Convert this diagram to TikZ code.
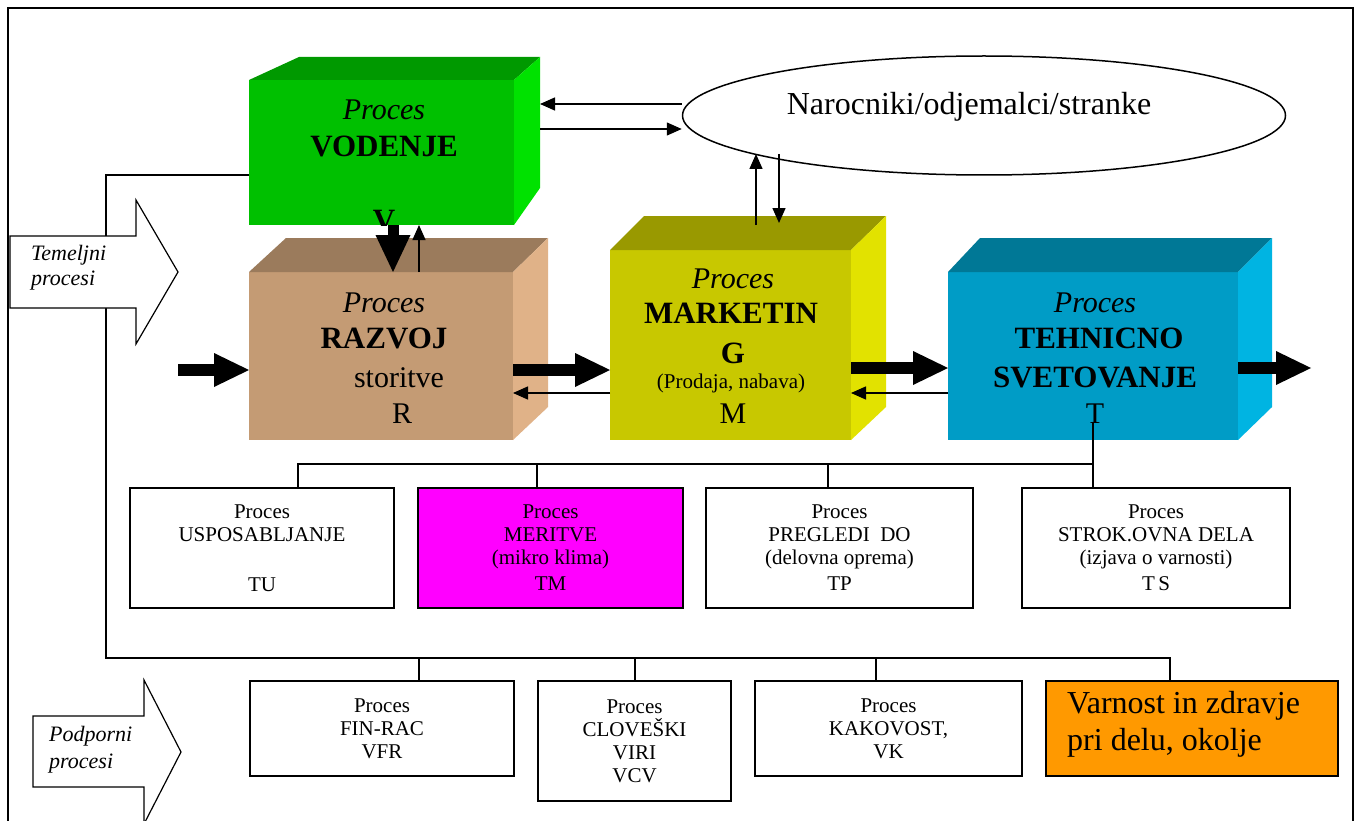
\documentclass[tikz,border=0pt]{standalone}
\usepackage{fontspec}
\setmainfont{Liberation Serif}
\usetikzlibrary{arrows.meta,shapes.geometric}

\definecolor{vodFront}{RGB}{0,192,0}
\definecolor{vodTop}{RGB}{0,153,0}
\definecolor{vodSide}{RGB}{0,226,0}
\definecolor{razFront}{RGB}{196,155,116}
\definecolor{razTop}{RGB}{155,123,92}
\definecolor{razSide}{RGB}{224,178,136}
\definecolor{marFront}{RGB}{200,200,0}
\definecolor{marTop}{RGB}{153,153,0}
\definecolor{marSide}{RGB}{226,226,0}
\definecolor{tehFront}{RGB}{0,156,198}
\definecolor{tehTop}{RGB}{0,120,150}
\definecolor{tehSide}{RGB}{0,180,226}
\definecolor{merFill}{RGB}{255,0,255}
\definecolor{varFill}{RGB}{255,153,0}

\begin{document}
\begin{tikzpicture}[x=1pt,y=-1pt,
  conn/.style={line width=1.4pt},
  thinarrow/.style={line width=1.4pt,-{Triangle[length=15pt,width=13pt]}},
  fatarrow/.style={line width=12pt,-{Triangle[length=35pt,width=34pt,line width=0pt]}},
  face/.style={inner sep=0pt,outer sep=0pt,anchor=north west},
  boxit/.style={font=\fontsize{30}{36}\selectfont\itshape,inner sep=0pt,anchor=base},
  boxbf/.style={font=\fontsize{31}{36}\selectfont\bfseries,inner sep=0pt,anchor=base},
  boxrm/.style={font=\fontsize{30}{36}\selectfont,inner sep=0pt,anchor=base},
  boxsm/.style={font=\fontsize{21}{24}\selectfont,inner sep=0pt,anchor=base},
  subbox/.style={draw,line width=1.3pt,align=center,inner sep=0pt,
                 font=\fontsize{21}{23}\selectfont},
  sidelbl/.style={font=\fontsize{22}{26}\selectfont\itshape,inner sep=0pt,anchor=base west},
  bigarrow/.style={draw,line width=1.2pt,fill=white,line join=miter}
]
\useasboundingbox (0,0) rectangle (1364,821);
\fill[white] (0,0) rectangle (1364,821);

% outer frame
\draw[line width=2pt] (8,821) -- (8,8) -- (1353,8) -- (1353,821);

% ---------- process VODENJE ----------
\node[face,fill=vodFront,minimum width=265pt,minimum height=145pt] (vod) at (249,80) {};
\coordinate (vodTL) at (299,57);
\coordinate (vodTR) at (540,57);
\coordinate (vodBR) at (540,188);
\fill[vodTop] (vod.north west) -- (vodTL) -- (vodTR) -- (vod.north east) -- cycle;
\fill[vodSide] (vod.north east) -- (vodTR) -- (vodBR) -- (vod.south east) -- cycle;
\node[boxit] (vodP) at (384,120) {Proces};
\node[boxbf] (vodN) at (384,157) {VODENJE};
\begin{scope}
  \clip (vod.north west) rectangle (vod.south east);
  \node[boxbf] (vodC) at (384,230) {V};
\end{scope}

% ---------- process RAZVOJ ----------
\node[face,fill=razFront,minimum width=264pt,minimum height=168pt] (raz) at (249,272) {};
\coordinate (razTL) at (286,238);
\coordinate (razTR) at (548,238);
\coordinate (razBR) at (548,407);
\fill[razTop] (raz.north west) -- (razTL) -- (razTR) -- (raz.north east) -- cycle;
\fill[razSide] (raz.north east) -- (razTR) -- (razBR) -- (raz.south east) -- cycle;
\node[boxit] (razP) at (384,312) {Proces};
\node[boxbf] (razN) at (384,348) {RAZVOJ};
\node[boxrm] (razS) at (399,387) {storitve};
\node[boxrm] (razC) at (402,423) {R};

% ---------- process MARKETING ----------
\node[face,fill=marFront,minimum width=241pt,minimum height=190pt] (mar) at (610,250) {};
\coordinate (marTL) at (644,216);
\coordinate (marTR) at (886,216);
\coordinate (marBR) at (886,407);
\fill[marTop] (mar.north west) -- (marTL) -- (marTR) -- (mar.north east) -- cycle;
\fill[marSide] (mar.north east) -- (marTR) -- (marBR) -- (mar.south east) -- cycle;
\node[boxit] (marP) at (733,288) {Proces};
\node[boxbf] (marN1) at (731,323) {MARKETIN};
\node[boxbf] (marN2) at (733,363) {G};
\node[boxsm] (marS) at (731,388) {(Prodaja, nabava)};
\node[boxrm] (marC) at (733,423) {M};

% ---------- process TEHNICNO SVETOVANJE ----------
\node[face,fill=tehFront,minimum width=290pt,minimum height=168pt] (teh) at (948,272) {};
\coordinate (tehTL) at (980,238);
\coordinate (tehTR) at (1272,238);
\coordinate (tehBR) at (1272,407);
\fill[tehTop] (teh.north west) -- (tehTL) -- (tehTR) -- (teh.north east) -- cycle;
\fill[tehSide] (teh.north east) -- (tehTR) -- (tehBR) -- (teh.south east) -- cycle;
\node[boxit] (tehP) at (1095,312) {Proces};
\node[boxbf] (tehN1) at (1099,348) {TEHNICNO};
\node[boxbf] (tehN2) at (1095,387) {SVETOVANJE};
\node[boxrm] (tehC) at (1095,423) {T};

% ---------- customers ----------
\node[draw,ellipse,line width=1.5pt,fill=white,inner sep=0pt,
      minimum width=603pt,minimum height=119pt] (cust) at (984,115.5) {};
\node[font=\fontsize{32}{36}\selectfont,inner sep=0pt,anchor=base] (custL) at (969,115)
  {Narocniki/odjemalci/stranke};

% arrows between VODENJE and customers
\draw[thinarrow] (cust.west |- 0,104) -- (vodTR |- 0,104);
\draw[thinarrow] (vodTR |- 0,129) -- (cust.west |- 0,129);

% arrows between MARKETING and customers
\coordinate (mkUpA) at (756,225);
\coordinate (mkUpB) at (756,154);
\coordinate (mkDnA) at (779,154);
\coordinate (mkDnB) at (779,223);
\draw[thinarrow] (mkUpA) -- (mkUpB);
\draw[thinarrow] (mkDnA) -- (mkDnB);

% arrows between VODENJE and RAZVOJ
\draw[line width=11pt,-{Triangle[length=37pt,width=35pt,line width=0pt]}]
  (393,0 |- vod.south) -- (393,0 |- raz.north);
\draw[thinarrow] (419,0 |- raz.north) -- (419,0 |- vod.south);

% main flow
\coordinate (inL) at (178,370);
\coordinate (outR) at (1311,368);
\draw[fatarrow] (inL) -- (raz.west |- inL);
\draw[fatarrow] (raz.east |- 0,370) -- (mar.west |- 0,370);
\draw[fatarrow] (mar.east |- 0,368) -- (teh.west |- 0,368);
\draw[fatarrow] (teh.east |- outR) -- (outR);

% return flow
\draw[thinarrow] (mar.west |- 0,393) -- (raz.east |- 0,393);
\draw[thinarrow] (teh.west |- 0,393) -- (mar.east |- 0,393);

% ---------- technical sub-processes ----------
\node[subbox,minimum width=264pt,minimum height=120pt] (tu) at (262,548)
  {Proces\\USPOSABLJANJE\\[27pt]TU};
\node[subbox,fill=merFill,minimum width=265pt,minimum height=120pt] (tm) at (550.5,548)
  {Proces\\MERITVE\\(mikro klima)\\[3pt]TM};
\node[subbox,minimum width=267pt,minimum height=120pt] (tp) at (839.5,548)
  {Proces\\PREGLEDI\ \ DO\\(delovna oprema)\\[3pt]TP};
\node[subbox,minimum width=268pt,minimum height=120pt] (ts) at (1156,548)
  {Proces\\STROK.OVNA DELA\\(izjava o varnosti)\\[3pt]T\,S};

\coordinate (tbusL) at (298,464);
\coordinate (tbusR) at (1093,464);
\coordinate (tehStem) at (1093,422);
\draw[conn] (tbusL |- tu.north) -- (tbusL) -- (tbusR);
\draw[conn] (tehStem) -- (tbusR |- ts.north);
\draw[conn] (537,0 |- tbusL) -- (537,0 |- tm.north);
\draw[conn] (828,0 |- tbusL) -- (828,0 |- tp.north);

% ---------- support processes ----------
\node[subbox,minimum width=264pt,minimum height=95pt] (vfr) at (382,728.5)
  {Proces\\FIN-RAC\\VFR};
\node[subbox,minimum width=193pt,minimum height=120pt] (vcv) at (634.5,741)
  {Proces\\CLOVEŠKI\\VIRI\\VCV};
\node[subbox,minimum width=267pt,minimum height=95pt] (vk) at (888.5,728.5)
  {Proces\\KAKOVOST,\\VK};
\node[draw,line width=1.3pt,fill=varFill,inner sep=0pt,
      minimum width=292pt,minimum height=95pt] (vzd) at (1192,728.5) {};
\node[font=\fontsize{32}{37}\selectfont,inner sep=0pt,anchor=base west] (vzdL1) at (1067,713)
  {Varnost in zdravje};
\node[font=\fontsize{32}{37}\selectfont,inner sep=0pt,anchor=base west] (vzdL2) at (1067,750)
  {pri delu, okolje};

\coordinate (sbusT) at (106,175);
\coordinate (sbusB) at (106,658);
\coordinate (sbusR) at (1170,658);
\draw[conn] (vod.west |- sbusT) -- (sbusT) -- (sbusB) -- (sbusR) -- (sbusR |- vzd.north);
\draw[conn] (419,0 |- sbusB) -- (419,0 |- vfr.north);
\draw[conn] (635,0 |- sbusB) -- (635,0 |- vcv.north);
\draw[conn] (876,0 |- sbusB) -- (876,0 |- vk.north);

% ---------- side labels ----------
\draw[bigarrow] (10,236) -- (136,236) -- (136,200) -- (178,272) -- (136,344)
  -- (136,308) -- (10,308) -- cycle;
\node[sidelbl] (temL1) at (31,260) {Temeljni};
\node[sidelbl] (temL2) at (31,285) {procesi};

\draw[bigarrow] (33,716) -- (144,716) -- (144,680) -- (181,752) -- (144,824)
  -- (144,787) -- (33,787) -- cycle;
\node[sidelbl] (podL1) at (49,741) {Podporni};
\node[sidelbl] (podL2) at (49,768) {procesi};

\end{tikzpicture}
\end{document}
